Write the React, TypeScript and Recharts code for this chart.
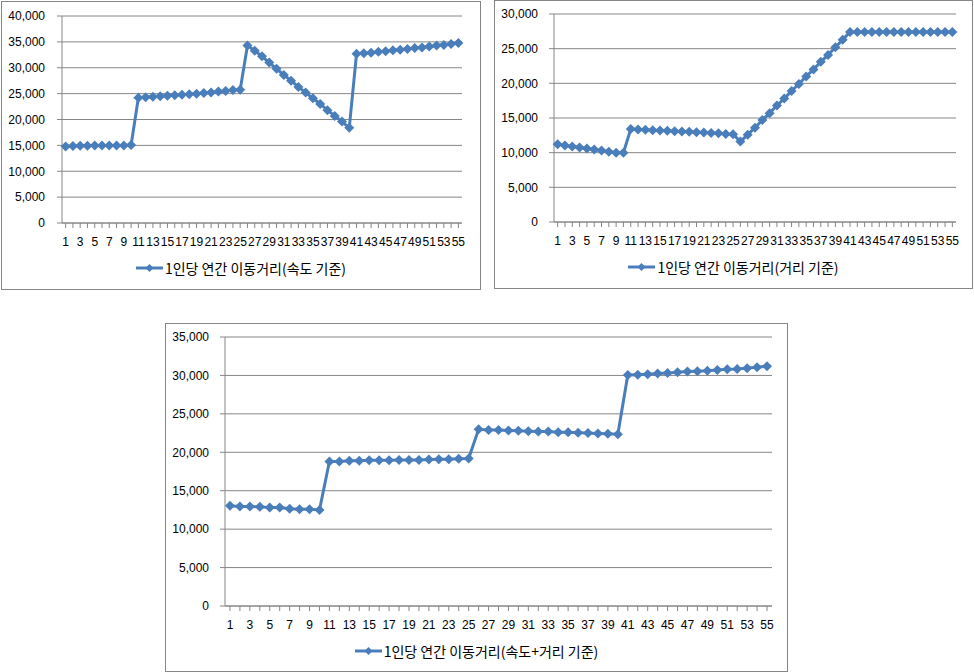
import React from 'react';
import { LineChart, Line, XAxis, YAxis, CartesianGrid, Legend } from 'recharts';

const categories = Array.from({ length: 55 }, (_, i) => i + 1);

// 1인당 연간 이동거리 (속도 기준)
const speedBased = [
  14800, 14900, 14950, 14950, 15000, 15000, 15000, 15000, 15000, 15050,
  24200, 24300, 24400, 24500, 24600, 24700, 24800, 24900, 25000, 25100, 25200, 25400, 25500, 25700, 25750,
  34300, 33300, 32200, 31000, 29800, 28600, 27500, 26300, 25200, 24100, 23000, 21800, 20700, 19600, 18400,
  32700, 32800, 32900, 33100, 33200, 33400, 33500, 33600, 33800, 33900, 34100, 34300, 34400, 34600, 34800,
];

// 1인당 연간 이동거리 (거리 기준)
const distanceBased = [
  11200, 11050, 10900, 10750, 10600, 10450, 10300, 10150, 10000, 10000,
  13400, 13350, 13300, 13250, 13200, 13150, 13100, 13050, 13000, 12950, 12900, 12850, 12800, 12700, 12650,
  11600, 12600, 13600, 14700, 15700, 16800, 17800, 18900, 19900, 21000, 22000, 23100, 24100, 25200, 26300, 27400,
  27400, 27400, 27400, 27400, 27400, 27400, 27400, 27400, 27400, 27400, 27400, 27400, 27400, 27400,
];

// 1인당 연간 이동거리 (속도+거리 기준)
const combined = [
  13050, 12950, 12950, 12900, 12800, 12800, 12650, 12600, 12600, 12500,
  18800, 18800, 18900, 18900, 18950, 18950, 18950, 19000, 19000, 19000, 19050, 19100, 19100, 19150, 19200,
  23000, 22900, 22900, 22850, 22800, 22750, 22700, 22700, 22600, 22600, 22550, 22500, 22450, 22400, 22350,
  30050, 30100, 30150, 30250, 30300, 30400, 30500, 30550, 30600, 30700, 30800, 30850, 30950, 31050, 31200,
];

const ticks40k = [0, 5000, 10000, 15000, 20000, 25000, 30000, 35000, 40000];
const ticks30k = [0, 5000, 10000, 15000, 20000, 25000, 30000];
const ticks35k = [0, 5000, 10000, 15000, 20000, 25000, 30000, 35000];

const BLUE = '#4A7EBB';
const GRID = '#868686';
const NUM_FONT = '"Liberation Sans", Arial, sans-serif';
const KR_FONT = '"Noto Sans CJK KR", "Liberation Sans", sans-serif';

const Diamond = (props: any) => {
  const { cx, cy } = props;
  if (cx == null || cy == null) return null;
  const r = 5;
  return (
    <polygon
      points={`${cx},${cy - r} ${cx + r},${cy} ${cx},${cy + r} ${cx - r},${cy}`}
      fill={BLUE}
    />
  );
};

const legendContent = (label: string) => () => (
  <div
    style={{
      height: 30,
      display: 'flex',
      alignItems: 'center',
      justifyContent: 'center',
      fontFamily: KR_FONT,
      fontSize: 14,
      color: '#000',
    }}
  >
    <svg width={27} height={12} style={{ marginRight: 2 }}>
      <line x1={0} y1={6} x2={27} y2={6} stroke={BLUE} strokeWidth={3} />
      <polygon points="13.5,2 17.5,6 13.5,10 9.5,6" fill={BLUE} />
    </svg>
    <span>{label}</span>
  </div>
);

type PanelProps = {
  left: number;
  top: number;
  width: number;
  height: number;
  values: number[];
  ticks: number[];
  yWidth: number;
  yGap: number;
  margin: { top: number; right: number; bottom: number; left: number };
  label: string;
};

function Panel({ left, top, width, height, values, ticks, yWidth, yGap, margin, label }: PanelProps) {
  const data = categories.map((c, i) => ({ cat: c, value: values[i] }));
  return (
    <div
      style={{
        position: 'absolute',
        left,
        top,
        width,
        height,
        border: `1px solid ${GRID}`,
        background: '#fff',
      }}
    >
      <LineChart width={width} height={height} data={data} margin={margin}>
        <CartesianGrid vertical={false} stroke={GRID} />
        <XAxis
          dataKey="cat"
          scale="band"
          interval={0}
          height={30}
          tickSize={5}
          tickMargin={9}
          stroke={GRID}
          tick={{ fontSize: 12, fill: '#000', fontFamily: NUM_FONT }}
          tickFormatter={(v: number) => (v % 2 === 1 ? String(v) : '')}
        />
        <YAxis
          width={yWidth}
          domain={[0, ticks[ticks.length - 1]]}
          ticks={ticks}
          tickSize={5}
          tickMargin={yGap}
          stroke={GRID}
          tick={{ fontSize: 12, fill: '#000', fontFamily: NUM_FONT }}
          tickFormatter={(v: number) => v.toLocaleString('en-US')}
        />
        <Legend
          verticalAlign="bottom"
          wrapperStyle={{ left: 0, width }}
          content={legendContent(label)}
        />
        <Line
          type="linear"
          dataKey="value"
          stroke={BLUE}
          strokeWidth={3}
          dot={<Diamond />}
          activeDot={false}
          isAnimationActive={false}
        />
      </LineChart>
    </div>
  );
}

export default function App() {
  return (
    <div
      style={{
        position: 'absolute',
        left: 0,
        top: 0,
        width: 974,
        height: 672,
        background: '#fff',
      }}
    >
      <Panel
        left={1}
        top={1}
        width={478}
        height={287}
        values={speedBased}
        ticks={ticks40k}
        yWidth={60}
        yGap={12}
        margin={{ top: 14, right: 18, bottom: 6, left: 0 }}
        label="1인당 연간 이동거리(속도 기준)"
      />
      <Panel
        left={494}
        top={0}
        width={477}
        height={287}
        values={distanceBased}
        ticks={ticks30k}
        yWidth={59}
        yGap={11}
        margin={{ top: 13, right: 16, bottom: 6, left: 0 }}
        label="1인당 연간 이동거리(거리 기준)"
      />
      <Panel
        left={165}
        top={323}
        width={621}
        height={347}
        values={combined}
        ticks={ticks35k}
        yWidth={59}
        yGap={11}
        margin={{ top: 13, right: 15, bottom: 5, left: 0 }}
        label="1인당 연간 이동거리(속도+거리 기준)"
      />
    </div>
  );
}
